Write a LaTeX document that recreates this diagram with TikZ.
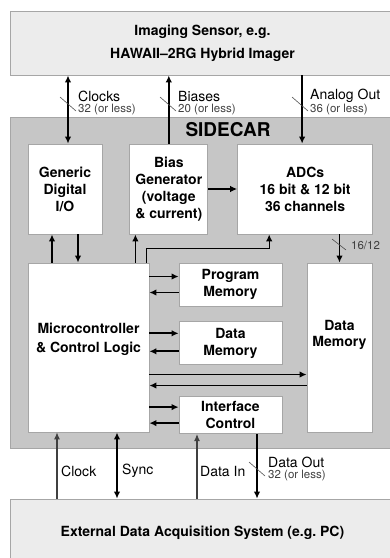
\documentclass[tikz,border=0pt]{standalone}
\usepackage{fontspec}
\setmainfont{TeX Gyre Heros}
\usetikzlibrary{arrows.meta,positioning}

\begin{document}
\begin{tikzpicture}[x=1pt, y=-1pt,
  outer/.style={draw=gray!70, line width=0.8pt, fill=gray!15, inner sep=0pt, align=center, font=\bfseries\fontsize{14}{17}\selectfont},
  block/.style={draw=gray!70, line width=0.8pt, fill=white, inner sep=0pt, align=center, font=\bfseries\fontsize{14}{17}\selectfont},
  txt/.style={inner sep=0pt, align=center, font=\bfseries\fontsize{14}{17}\selectfont},
  lbl/.style={anchor=west, inner sep=0pt, font=\fontsize{14}{17}\selectfont},
  sub/.style={anchor=west, inner sep=0pt, text=black!75, font=\fontsize{11.5}{14}\selectfont},
  bus/.style={line width=1.8pt, -{Latex[length=7pt,width=6.5pt]}},
  dbus/.style={line width=1.8pt, {Latex[length=7pt,width=6.5pt]}-{Latex[length=7pt,width=6.5pt]}},
  wire/.style={line width=1.1pt, black!75, -{Latex[length=7pt,width=6pt]}},
  tick/.style={gray!60!black, line width=0.6pt}]
\useasboundingbox (0,0) rectangle (390,558);

\node[outer, minimum width=385pt, minimum height=64pt] (sensor) at (202.5,43) {Imaging Sensor, e.g.\\[6pt] HAWAII--2RG Hybrid Imager};
\node[outer, fill=gray!45, minimum width=385pt, minimum height=331pt] (sidecar) at (202.5,282.5) {};
\node[outer, minimum width=385pt, minimum height=68pt] (daq) at (202.5,533) {External Data Acquisition System (e.g.~PC)};
\node[inner sep=0pt, font=\bfseries\fontsize{19}{22}\selectfont] (title) at (228,130) {SIDECAR};

\node[block, minimum width=74pt, minimum height=90pt] (gio) at (65,189) {Generic\\Digital\\I/O};
\node[block, minimum width=78pt, minimum height=90pt, right=27pt of gio] (bias) {Bias\\Generator\\(voltage\\\& current)};
\node[block, minimum width=135pt, minimum height=90pt, right=29pt of bias] (adc) {ADCs\\16 bit \& 12 bit\\36 channels};

\node[block, minimum width=121pt, minimum height=169pt] (mcu) at (88.5,347.5) {};
\node[txt, font=\bfseries\fontsize{14}{19}\selectfont] (mcutxt) at ([yshift=8pt]mcu.center) {Microcontroller\\\& Control Logic};
\node[block, minimum width=103pt, minimum height=43pt] (prog) at (230.5,284.5) {Program\\Memory};
\node[block, minimum width=103pt, minimum height=43pt, below=15pt of prog] (dmid) {Data\\Memory};
\node[block, minimum width=103pt, minimum height=37pt, below=31pt of dmid] (ifc) {Interface\\Control};
\node[block, minimum width=65pt, minimum height=169pt] (dmem) at (339.5,347.5) {};
\node[txt, font=\bfseries\fontsize{14}{16}\selectfont] (dmemtxt) at ([yshift=13pt]dmem.center) {Data\\Memory};

% sensor side
\path[dbus] ([xshift=3pt]gio.north) edge ([xshift=3pt]gio.north |- sensor.south);
\path[bus] (bias.north) edge (bias.north |- sensor.south)
    ([xshift=-3pt]adc.north |- sensor.south) edge ([xshift=-3pt]adc.north)
    (bias.east) edge (adc.west)
    ([xshift=-13pt]gio.south |- mcu.north) edge ([xshift=-13pt]gio.south)
    ([xshift=13pt]gio.south) edge ([xshift=13pt]gio.south |- mcu.north)
    ([xshift=6pt]bias.south west |- mcu.north) edge ([xshift=6pt]bias.south west)
    (dmem.north |- adc.south) edge (dmem.north);
\draw[bus, line width=1.2pt] ([xshift=-3pt]mcu.north east) |- ([xshift=32pt,yshift=-14pt]adc.south west) -- ([xshift=32pt]adc.south west);

% memories
\path[bus] ([yshift=8pt]prog.west -| mcu.east) edge ([yshift=8pt]prog.west)
    ([yshift=-8pt]prog.west) edge ([yshift=-8pt]prog.west -| mcu.east)
    ([yshift=10pt]dmid.west -| mcu.east) edge ([yshift=10pt]dmid.west)
    ([yshift=-8pt]dmid.west) edge ([yshift=-8pt]dmid.west -| mcu.east)
    ([yshift=-27pt]dmem.west -| mcu.east) edge ([yshift=-27pt]dmem.west)
    ([yshift=-38pt]dmem.west) edge ([yshift=-38pt]dmem.west -| mcu.east)
    ([yshift=8pt]ifc.west -| mcu.east) edge ([yshift=8pt]ifc.west)
    ([yshift=-8pt]ifc.west) edge ([yshift=-8pt]ifc.west -| mcu.east);

% host side
\path[dbus] ([xshift=28.5pt]mcu.south) edge ([xshift=28.5pt]mcu.south |- daq.north);
\path[bus] ([xshift=26.5pt]ifc.south) edge ([xshift=26.5pt]ifc.south |- daq.north);
\path[wire] ([xshift=-31.5pt]mcu.south |- daq.north) edge ([xshift=-31.5pt]mcu.south)
    ([xshift=-33.5pt]ifc.south |- daq.north) edge ([xshift=-33.5pt]ifc.south);

% labels
\node[lbl] (clkl) at (78,96) {Clocks};
\node[sub] (clkn) at (78,110) {32 (or less)};
\node[lbl] (biasl) at (178,96) {Biases};
\node[sub] (biasn) at (178,110) {20 (or less)};
\node[lbl] (aoutl) at (310,96) {Analog Out};
\node[sub] (aoutn) at (310,110) {36 (or less)};
\node[sub] (adcn) at (351,245) {16/12};
\node[lbl] (clockl) at (61,471) {Clock};
\node[lbl] (syncl) at (122,471) {Sync};
\node[lbl] (dinl) at (200,471) {Data In};
\node[lbl] (doutl) at (268,462) {Data Out};
\node[sub] (doutn) at (268,476) {32 (or less)};

\draw[tick] (60,97) -- (76,111);
\draw[tick] (160,97) -- (176,111);
\draw[tick] (292,97) -- (308,111);
\draw[tick] (332,239) -- (346,250);
\draw[tick] (249,462) -- (265,476);
\end{tikzpicture}
\end{document}
